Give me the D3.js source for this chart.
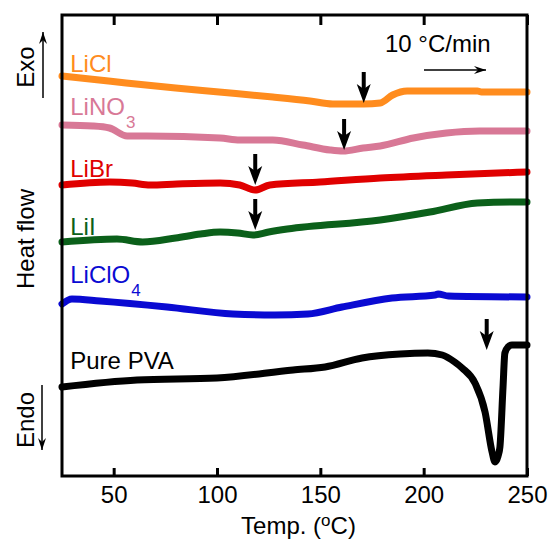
<!DOCTYPE html>
<html>
<head>
<meta charset="utf-8">
<script src="https://cdn.jsdelivr.net/npm/d3@7"></script>
<style>
  body { margin: 0; background: #fff; }
  svg { font-family: "Liberation Sans", Arial, sans-serif; }
  .curve { fill: none; stroke-width: 7; stroke-linecap: round; stroke-linejoin: round; }
  .tick line { stroke: #000; stroke-width: 3; }
  .tick text { font-size: 24px; fill: #000; }
</style>
</head>
<body>
<svg id="canvas" width="550" height="544"></svg>
<script>
// DSC traces, [temperature in °C, heat flow in a.u.]
const licl = [[25,400],[43,396],[56,393],[80,388],[101,384],[127,379],[145,375],[156,372],[171,372],[179,373],[185,381],[192,385],[226,385],[228,384],[250,384]];
const lino3 = [[25,351],[40,350],[48,348],[56.5,340],[66,340],[101.5,338],[111,336],[127,336],[141.6,331],[154.7,326],[161,325],[170.7,328],[179,330],[195,338],[211,343],[227,345],[250,345]];
const libr = [[25,291],[48,294],[59,293],[67.6,291],[80.6,292],[101.5,293],[111,291],[118.4,286],[125.6,291],[149.8,294],[179,298],[211,301],[250,304]];
const lii = [[25,234],[51.6,237],[64,234],[80,238],[92,242],[101.5,244],[110,243],[117.4,241],[125,244],[134,247],[179,256],[203,264],[226,273],[243,274],[250,274]];
const liclo4 = [[25,172],[29.8,177],[43.4,175],[75.8,169],[107.7,162],[128,161],[144,162],[160.5,169],[184.7,178],[205.5,181],[207,182],[212,180],[250,179]];
const pva = [[25,89],[61.3,96],[100,98],[136.8,106],[152.3,109],[170.2,118],[188.6,122],[202,123],[209,121],[215,114],[218.6,108],[224.8,93],[229.7,64],[233.1,24],[234.5,14],[236,20],[236.9,29],[238.4,89],[239.3,123],[240.8,129],[242.7,131],[250,131]];

const seriesNames = ["LiCl", "LiNO", "LiBr", "LiI", "LiClO", "Pure PVA"];
const seriesSubs = ["", "3", "", "", "4", ""];
const seriesColors = ["#ff8c1e", "#d87896", "#e00000", "#0b601a", "#0a0ad2", "#000000"];
const seriesData = [licl, lino3, libr, lii, liclo4, pva];
const labelValues = [404, 361, 299, 241, 193, 107];

// transition markers, [temperature, heat flow at arrow tip]
const markerT = [171, 161.5, 118.5, 118.5, 230.5];
const markerV = [373, 326, 291, 246, 126];

const xTicks = [50, 100, 150, 200, 250];

const svg = d3.select("#canvas");
const margin = {left: 62, top: 15, right: 23, bottom: 68};
const W = 550 - margin.left - margin.right;
const H = 544 - margin.top - margin.bottom;

const x = d3.scaleLinear().domain([25, 250]).range([0, W]);
const y = d3.scaleLinear().domain([0, H]).range([H, 0]);

const g = svg.append("g").attr("transform", `translate(${margin.left},${margin.top})`);

const line = d3.line().x(d => x(d[0])).y(d => y(d[1])).curve(d3.curveMonotoneX);

g.selectAll(".curve")
  .data(seriesData)
  .enter().append("path")
  .attr("class", "curve")
  .attr("stroke", (d, i) => seriesColors[i])
  .attr("d", line);

// labels
const labels = g.selectAll(".lbl")
  .data(seriesNames)
  .enter().append("text")
  .attr("class", "lbl")
  .attr("x", x(29))
  .attr("y", (d, i) => y(labelValues[i]))
  .attr("fill", (d, i) => seriesColors[i])
  .style("font-size", "24px");
labels.append("tspan").text(d => d);
labels.append("tspan")
  .attr("dx", 1)
  .attr("dy", 13)
  .style("font-size", "17px")
  .text((d, i) => seriesSubs[i]);

// arrows pointing to the transitions
const arrowLen = 31;
const ag = g.selectAll(".mark")
  .data(markerT)
  .enter().append("g")
  .attr("class", "mark")
  .attr("transform", (d, i) => `translate(${x(d)},${y(markerV[i])})`);
ag.append("line")
  .attr("x1", 0).attr("x2", 0)
  .attr("y1", -arrowLen).attr("y2", -12)
  .attr("stroke", "#000").attr("stroke-width", 4);
ag.append("path")
  .attr("d", "M0,0 L-7,-19 L0,-14 L7,-19 Z")
  .attr("fill", "#000");

// axes
const xAxis = d3.axisBottom(x).tickValues(xTicks).tickSizeInner(-8).tickSizeOuter(0).tickPadding(10);
const xa = g.append("g").attr("transform", `translate(0,${H})`).call(xAxis);
xa.select(".domain").remove();
xa.selectAll("text").attr("font-family", null);

const xTop = d3.axisTop(x).tickValues(xTicks).tickSizeInner(-10).tickSizeOuter(0).tickFormat("");
const xt = g.append("g").call(xTop);
xt.select(".domain").remove();

g.append("rect")
  .attr("width", W).attr("height", H)
  .attr("fill", "none").attr("stroke", "#000").attr("stroke-width", 3);

// axis title
const xt2 = svg.append("text")
  .attr("x", margin.left + W / 2 + 4)
  .attr("y", 534)
  .attr("text-anchor", "middle")
  .style("font-size", "24px");
xt2.append("tspan").text("Temp. (");
xt2.append("tspan").attr("dy", -8).style("font-size", "17px").text("o");
xt2.append("tspan").attr("dy", 8).text("C)");

svg.append("text")
  .attr("transform", "translate(34,239) rotate(-90)")
  .attr("text-anchor", "middle")
  .style("font-size", "24px")
  .text("Heat flow");

svg.append("text")
  .attr("transform", "translate(34,67) rotate(-90)")
  .attr("text-anchor", "middle")
  .style("font-size", "24px")
  .text("Exo");

svg.append("text")
  .attr("transform", "translate(34,420) rotate(-90)")
  .attr("text-anchor", "middle")
  .style("font-size", "24px")
  .text("Endo");

// thin arrows
svg.append("defs").append("marker")
  .attr("id", "head")
  .attr("viewBox", "0 0 12 8")
  .attr("refX", 12).attr("refY", 4)
  .attr("markerWidth", 12).attr("markerHeight", 8)
  .attr("markerUnits", "userSpaceOnUse")
  .attr("orient", "auto")
  .append("path")
  .attr("d", "M0,0 L12,4 L0,8 L4,4 Z")
  .attr("fill", "#000");

const thin = [[43, 98, 43, 32], [42, 385, 42, 450], [424, 70, 486, 70]];
svg.selectAll(".thin")
  .data(thin)
  .enter().append("line")
  .attr("class", "thin")
  .attr("x1", d => d[0]).attr("y1", d => d[1])
  .attr("x2", d => d[2]).attr("y2", d => d[3])
  .attr("stroke", "#000").attr("stroke-width", 1.5)
  .attr("marker-end", "url(#head)");

svg.append("text")
  .attr("x", 385).attr("y", 52)
  .style("font-size", "24px")
  .text("10 °C/min");
</script>
</body>
</html>
